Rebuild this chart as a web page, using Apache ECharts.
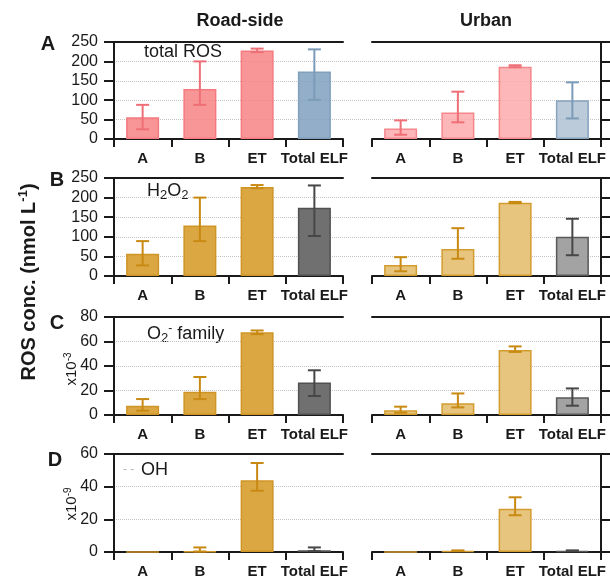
<!DOCTYPE html>
<html lang="en">
<head>
<meta charset="UTF-8">
<title>ROS concentration</title>
<style>
  html, body { margin: 0; padding: 0; background: #fff; }
  #chart { width: 610px; height: 581px; }
</style>
</head>
<body>
<div id="chart"></div>
<script src="https://cdn.jsdelivr.net/npm/echarts@6/dist/echarts.min.js"></script>
<script>
const categories = ['A', 'B', 'ET', 'Total ELF'];

// A: total ROS (nmol/L)
const rosRoad = [56, 129, 228, 174];
const rosRoadLow = [25, 88, 224, 101];
const rosRoadHigh = [88, 200, 233, 231];
const rosUrban = [27, 68, 186, 100];
const rosUrbanLow = [11, 43, 185, 53];
const rosUrbanHigh = [48, 122, 190, 146];

// B: H2O2
const h2o2Road = [57, 129, 227, 174];
const h2o2RoadLow = [27, 89, 224, 102];
const h2o2RoadHigh = [89, 200, 232, 231];
const h2o2Urban = [28, 69, 187, 100];
const h2o2UrbanLow = [12, 44, 186, 53];
const h2o2UrbanHigh = [48, 122, 189, 146];

// C: O2- family (x10^-3)
const o2Road = [7.5, 19, 67.5, 26.5];
const o2RoadLow = [3.5, 13, 66, 15.5];
const o2RoadHigh = [13, 31, 69, 36.5];
const o2Urban = [3.8, 9.5, 53, 14.5];
const o2UrbanLow = [1.9, 6.2, 51.5, 7.6];
const o2UrbanHigh = [6.8, 17.6, 56, 21.7];

// D: OH (x10^-9)
const ohRoad = [0.1, 0.3, 44, 1];
const ohRoadLow = [0.1, 0.3, 37.5, 0.5];
const ohRoadHigh = [0.1, 2.8, 54.5, 2.8];
const ohUrban = [0, 0.6, 26.5, 0.6];
const ohUrbanLow = [0, 0.6, 22.5, 0.6];
const ohUrbanHigh = [0, 1.0, 33.5, 1.0];

const yTicksAB = { max: 250, interval: 50 };
const yTicksC = { max: 80, interval: 20 };
const yTicksD = { max: 60, interval: 20 };

const FONT = "'Liberation Sans', Arial, sans-serif";
const INK = '#1a1a1a';

// ------------------------- colours -------------------------
const pinkSet = {
    road:  { fill: 'rgba(247,130,133,0.85)', border: '#f47a80', err: '#ef6f77' },
    roadT: { fill: 'rgba(128,160,190,0.85)', border: '#7f9fbc', err: '#7b9bb8' },
    urban: { fill: 'rgba(253,170,172,0.85)', border: '#f4878c', err: '#ef6f77' },
    urbanT:{ fill: 'rgba(175,194,212,0.85)', border: '#86a3bd', err: '#7b9bb8' }
};
const goldSet = {
    road:  { fill: '#dba743', border: '#cf9526', err: '#c88a12' },
    roadT: { fill: '#707070', border: '#505050', err: '#474747' },
    urban: { fill: '#e7c57e', border: '#d29c2f', err: '#c88a12' },
    urbanT:{ fill: '#a3a3a3', border: '#595959', err: '#474747' }
};

const rows = [
    { top: 42,  height: 97, ticks: yTicksAB, colors: pinkSet,
      road: [rosRoad, rosRoadLow, rosRoadHigh], urban: [rosUrban, rosUrbanLow, rosUrbanHigh] },
    { top: 178, height: 98, ticks: yTicksAB, colors: goldSet,
      road: [h2o2Road, h2o2RoadLow, h2o2RoadHigh], urban: [h2o2Urban, h2o2UrbanLow, h2o2UrbanHigh] },
    { top: 317, height: 98, ticks: yTicksC, colors: goldSet,
      road: [o2Road, o2RoadLow, o2RoadHigh], urban: [o2Urban, o2UrbanLow, o2UrbanHigh] },
    { top: 454, height: 98, ticks: yTicksD, colors: goldSet,
      road: [ohRoad, ohRoadLow, ohRoadHigh], urban: [ohUrban, ohUrbanLow, ohUrbanHigh] }
];

const grid = [], xAxis = [], yAxis = [], series = [];

function barSeries(xi, yi, values, c, cT) {
    return {
        type: 'bar', xAxisIndex: xi, yAxisIndex: yi, barWidth: 33, z: 3,
        data: values.map((v, i) => {
            const col = i === 3 ? cT : c;
            return { value: v, itemStyle: { color: col.fill, borderColor: col.border, borderWidth: 1.5 } };
        })
    };
}

function errorSeries(xi, yi, low, high, c, cT) {
    return {
        type: 'custom', xAxisIndex: xi, yAxisIndex: yi, z: 5,
        encode: { x: 0, y: [1, 2] },
        data: low.map((l, i) => [i, l, high[i]]),
        renderItem: function (params, api) {
            const i = api.value(0);
            if (api.value(1) === api.value(2)) return;
            const lo = api.coord([i, api.value(1)]);
            const hi = api.coord([i, api.value(2)]);
            const style = { stroke: (i === 3 ? cT : c).err, lineWidth: 2 };
            const w = 6.5;
            return {
                type: 'group',
                children: [
                    { type: 'line', shape: { x1: hi[0], y1: hi[1], x2: lo[0], y2: lo[1] }, style: style },
                    { type: 'line', shape: { x1: hi[0] - w, y1: hi[1], x2: hi[0] + w, y2: hi[1] }, style: style },
                    { type: 'line', shape: { x1: lo[0] - w, y1: lo[1], x2: lo[0] + w, y2: lo[1] }, style: style }
                ]
            };
        }
    };
}

const axisLineStyle = { color: INK, width: 2 };

rows.forEach(row => {
    // background grid: dotted gridlines running across both panels
    const gBg = grid.length;
    grid.push({ left: 114, width: 487, top: row.top, height: row.height });
    xAxis.push({ type: 'value', gridIndex: gBg, show: false });
    yAxis.push({
        type: 'value', gridIndex: gBg, min: 0, max: row.ticks.max, interval: row.ticks.interval,
        axisLine: { show: false }, axisTick: { show: false }, axisLabel: { show: false },
        splitLine: { show: true, showMinLine: false, showMaxLine: false,
                     lineStyle: { type: 'dotted', color: '#c4c4c4', width: 1 } }
    });

    [['road', 114, 'left'], ['urban', 372, 'right']].forEach(([side, left, yPos]) => {
        const g = grid.length;
        grid.push({ left: left, width: 229, top: row.top, height: row.height });

        const xi = xAxis.length;
        xAxis.push({
            type: 'category', gridIndex: g, data: categories, position: 'bottom',
            axisLine: { show: true, lineStyle: axisLineStyle },
            axisTick: { show: true, length: 8, lineStyle: axisLineStyle },
            axisLabel: { interval: 0, color: INK, fontFamily: FONT, fontWeight: 'bold', fontSize: 15, margin: 12 }
        });
        xAxis.push({
            type: 'category', gridIndex: g, data: categories, position: 'top',
            axisLine: { show: true, lineStyle: axisLineStyle },
            axisTick: { show: false }, axisLabel: { show: false }
        });

        const yi = yAxis.length;
        yAxis.push({
            type: 'value', gridIndex: g, position: yPos,
            min: 0, max: row.ticks.max, interval: row.ticks.interval,
            axisLine: { show: true, lineStyle: axisLineStyle },
            axisTick: { show: true, length: side === 'road' ? 10 : 9, lineStyle: axisLineStyle },
            axisLabel: { show: side === 'road', color: INK, fontFamily: FONT, fontSize: 16, margin: 16 },
            splitLine: { show: false }
        });

        const c = row.colors[side];
        const cT = row.colors[side + 'T'];
        const d = row[side];
        series.push(barSeries(xi, yi, d[0], c, cT));
        series.push(errorSeries(xi, yi, d[1], d[2], c, cT));
    });
});

// ------------------------- texts -------------------------
function txt(x, y, text, opts) {
    return Object.assign({
        type: 'text', x: x, y: y, silent: true,
        style: Object.assign({
            text: text, fill: INK, font: '18px ' + FONT, align: 'center', verticalAlign: 'middle'
        }, opts && opts.style)
    }, opts && opts.el);
}

const richBase = {
    n:   { fontFamily: FONT, fontSize: 18, fill: INK, lineHeight: 22 },
    sub: { fontFamily: FONT, fontSize: 13, fill: INK, lineHeight: 13, verticalAlign: 'bottom' },
    sup: { fontFamily: FONT, fontSize: 12, fill: INK, lineHeight: 12, verticalAlign: 'top' },
    dot: { fontFamily: FONT, fontSize: 12, fill: '#b5b5b5', lineHeight: 22 },
    b:   { fontFamily: FONT, fontSize: 20, fontWeight: 'bold', fill: INK, lineHeight: 24 },
    bs:  { fontFamily: FONT, fontSize: 13, fontWeight: 'bold', fill: INK, lineHeight: 13, verticalAlign: 'top' },
    m:   { fontFamily: FONT, fontSize: 15, fill: INK, lineHeight: 18 },
    ms:  { fontFamily: FONT, fontSize: 10, fill: INK, lineHeight: 10, verticalAlign: 'top' }
};

function rich(x, y, text, align, rotation) {
    return {
        type: 'text', x: x, y: y, silent: true, rotation: rotation || 0,
        style: { text: text, rich: richBase, align: align || 'left', verticalAlign: 'middle' }
    };
}

const graphic = [
    txt(240, 21, 'Road-side', { style: { font: 'bold 18px ' + FONT } }),
    txt(486, 21, 'Urban', { style: { font: 'bold 18px ' + FONT } }),
    txt(48, 44, 'A', { style: { font: 'bold 20px ' + FONT } }),
    txt(57, 180, 'B', { style: { font: 'bold 20px ' + FONT } }),
    txt(57, 323, 'C', { style: { font: 'bold 20px ' + FONT } }),
    txt(55, 460, 'D', { style: { font: 'bold 20px ' + FONT } }),
    rich(144, 52, '{n|total ROS}'),
    rich(147, 191, '{n|H}{sub|2}{n|O}{sub|2}'),
    rich(147, 334, '{n|O}{sub|2}{sup|-}{n| family}'),
    rich(123, 470, '{dot|- -  }{n|OH}'),
    rich(72, 369, '{m|x10}{ms|-3}', 'center', Math.PI / 2),
    rich(72, 504, '{m|x10}{ms|-9}', 'center', Math.PI / 2),
    rich(29, 282, '{b|ROS conc. (nmol L}{bs|-1}{b|)}', 'center', Math.PI / 2)
];

const myChart = echarts.init(document.getElementById('chart'));
myChart.setOption({
    animation: false,
    textStyle: { fontFamily: FONT },
    grid: grid,
    xAxis: xAxis,
    yAxis: yAxis,
    series: series,
    graphic: graphic
});
</script>
</body>
</html>
